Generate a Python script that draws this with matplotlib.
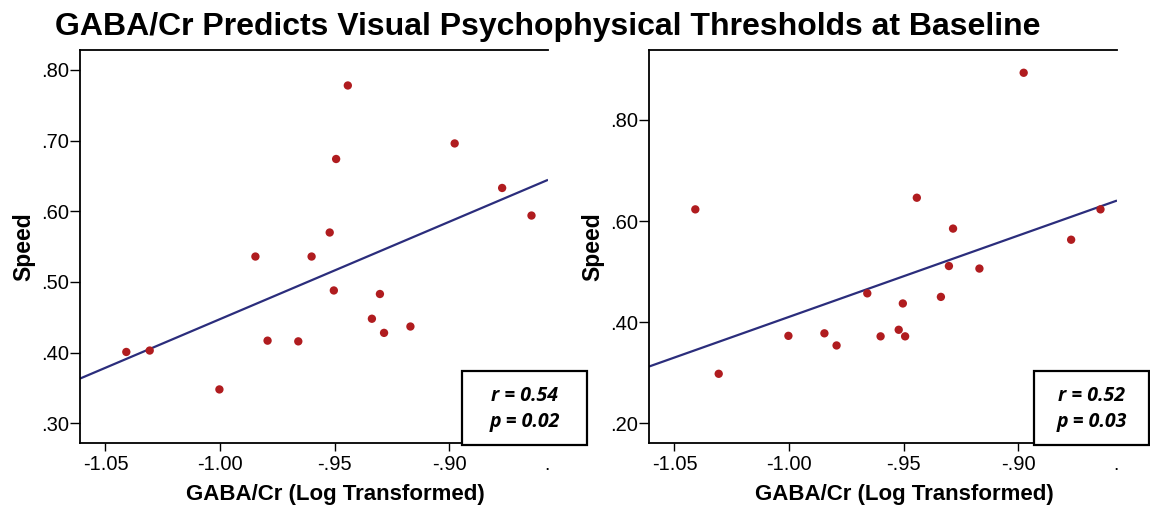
import numpy as np
import matplotlib
matplotlib.use("Agg")
import matplotlib.pyplot as plt
from matplotlib.patches import Rectangle

# GABA/Cr (log transformed) per participant, shared by both panels
gaba_cr = [-1.0409, -1.0307, -1.0003, -0.9846, -0.9793, -0.9659, -0.9601, -0.9522,
           -0.9504, -0.9494, -0.9443, -0.9338, -0.9303, -0.9285, -0.9170, -0.8977,
           -0.8770, -0.8642]

# Speed thresholds, left panel
speed_left = [0.401, 0.403, 0.348, 0.536, 0.417, 0.416, 0.536, 0.570,
              0.488, 0.674, 0.778, 0.448, 0.483, 0.428, 0.437, 0.696,
              0.633, 0.594]

# Speed thresholds, right panel (order follows gaba_cr)
speed_right = [0.623, 0.298, 0.373, 0.378, 0.354, 0.457, 0.372, 0.385,
               0.437, 0.372, 0.646, 0.450, 0.511, 0.585, 0.506, 0.893,
               0.563, 0.623]

stats_left = ("r = 0.54", "p = 0.02")
stats_right = ("r = 0.52", "p = 0.03")

x_ticks = [-1.05, -1.00, -0.95, -0.90]
x_tick_labels = ["-1.05", "-1.00", "-.95", "-.90"]
y_ticks_left = [0.30, 0.40, 0.50, 0.60, 0.70, 0.80]
y_tick_labels_left = [".30", ".40", ".50", ".60", ".70", ".80"]
y_ticks_right = [0.20, 0.40, 0.60, 0.80]
y_tick_labels_right = [".20", ".40", ".60", ".80"]

W, H = 1150, 509
fig = plt.figure(figsize=(W / 100, H / 100), dpi=100)
plt.rcParams["font.family"] = ["Liberation Sans", "DejaVu Sans"]

DOT = "#b01c1f"
LINE = "#2b2d7c"
XLIM = (-1.0611, -0.857)


def px_box(x0, y0, x1, y1):
    """Convert pixel box (top-left origin) into figure-fraction rect."""
    return [x0 / W, 1 - y1 / H, (x1 - x0) / W, (y1 - y0) / H]


def panel(rect, xs, ys, ylim, yticks, yticklabels):
    ax = fig.add_axes(rect)
    ax.set_xlim(*XLIM)
    ax.set_ylim(*ylim)
    xs = np.asarray(xs)
    ys = np.asarray(ys)
    slope, intercept = np.polyfit(xs, ys, 1)
    xl = np.array(XLIM)
    ax.plot(xl, slope * xl + intercept, color=LINE, lw=1.6, zorder=2,
            solid_capstyle="butt")
    ax.scatter(xs, ys, s=36, color=DOT, edgecolors="none", zorder=3)
    ax.spines["right"].set_visible(False)
    for s in ("left", "bottom", "top"):
        ax.spines[s].set_linewidth(1.3)
        ax.spines[s].set_color("black")
    ax.set_xticks(x_ticks)
    ax.set_xticklabels(x_tick_labels)
    ax.set_yticks(yticks)
    ax.set_yticklabels(yticklabels)
    ax.tick_params(axis="x", direction="out", length=6, width=1.0,
                   labelsize=14.5, pad=3)
    ax.tick_params(axis="y", direction="out", length=7, width=1.0,
                   labelsize=14.5, pad=1)
    ax.set_xlabel("GABA/Cr (Log Transformed)", fontsize=16,
                  fontweight="bold", va="center")
    ax.xaxis.set_label_coords(0.545, -0.1298)
    ax.set_ylabel("Speed", fontsize=16.5, fontweight="bold", labelpad=4)
    return ax


ax_l = panel(px_box(80, 50, 548, 443), gaba_cr, speed_left,
             (0.2722, 0.8282), y_ticks_left, y_tick_labels_left)
ax_r = panel(px_box(649, 50, 1117, 443), gaba_cr, speed_right,
             (0.1612, 0.938), y_ticks_right, y_tick_labels_right)

# Stray tick glyphs at the right end of each x axis
fig.text(547 / W, 1 - 466 / H, ".", fontsize=14, ha="center", va="center")
fig.text(1116 / W, 1 - 466 / H, ".", fontsize=14, ha="center", va="center")

# Statistic boxes
for (x0, x1), (rtxt, ptxt) in (((462, 587), stats_left), ((1034, 1149), stats_right)):
    rect = Rectangle((x0 / W, 1 - 445 / H), (x1 - x0) / W, (445 - 371) / H,
                     transform=fig.transFigure, facecolor="white",
                     edgecolor="black", lw=1.6, zorder=5)
    fig.patches.append(rect)
    cx = (x0 + x1) / 2 / W
    fig.text(cx, 1 - 396 / H, rtxt, ha="center", va="center", fontsize=14,
             family="Open Sans", fontweight="bold", style="italic", zorder=6)
    fig.text(cx, 1 - 422 / H, ptxt, ha="center", va="center", fontsize=14,
             family="Open Sans", fontweight="bold", style="italic", zorder=6)

fig.text(548 / W, 1 - 27 / H,
         "GABA/Cr Predicts Visual Psychophysical Thresholds at Baseline",
         ha="center", va="center", fontsize=23, fontweight="bold")

fig.savefig("out.png", dpi=100, facecolor="white")
